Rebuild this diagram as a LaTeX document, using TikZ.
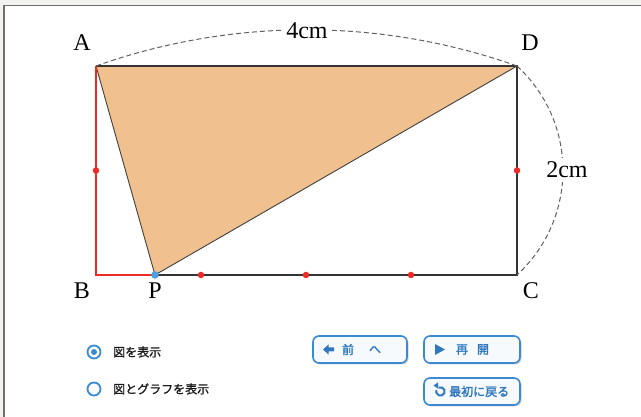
\documentclass[tikz,border=0pt]{standalone}
\usepackage{fontspec}
\setmainfont{Liberation Serif}
\newfontfamily\jpfont[FakeBold=1]{Noto Sans CJK JP}
\newfontfamily\jpbold[FakeBold=2]{Noto Sans CJK JP}
\usetikzlibrary{arrows.meta}
\definecolor{bgray}{HTML}{F3F2EE}
\definecolor{frame}{HTML}{707070}
\definecolor{tri}{HTML}{F0C08E}
\definecolor{redl}{HTML}{EE2A24}
\definecolor{bluep}{HTML}{4A9FDF}
\definecolor{btnblue}{HTML}{3A8AD2}
\definecolor{btntext}{HTML}{2F78C0}
\definecolor{btnfill}{HTML}{F7FAFD}
\tikzset{
  ptlabel/.style={font=\fontsize{24}{24}\selectfont, inner sep=0pt},
  dimlabel/.style={font=\fontsize{24}{24}\selectfont, fill=white, inner sep=4pt},
  edge/.style={draw=black!80, line width=1.2pt},
  redside/.style={draw=redl, line width=2.2pt},
  dimarc/.style={draw=black!62, dash pattern=on 5pt off 3pt, line width=1pt},
  reddot/.style={circle, fill=redl, inner sep=0pt, minimum size=6.5pt},
  radiolbl/.style={font=\jpfont\fontsize{12}{12}\selectfont, text=black!90, anchor=west, inner sep=0pt},
  btn/.style={draw=btnblue, line width=1.6pt, rounded corners=6pt, fill=btnfill},
  btnshadow/.style={fill=black!18, rounded corners=6pt},
  btntxt/.style={font=\jpbold\fontsize{12}{12}\selectfont, text=btntext, inner sep=0pt}
}
\begin{document}
\begin{tikzpicture}[x=1pt,y=1pt]
\useasboundingbox (0,0) rectangle (641,417);
% background and frame
\fill[bgray] (0,0) rectangle (641,417);
\fill[white] (4,0) rectangle (641,411.5);
\draw[frame, line width=1.6pt] (4,0) -- (4,411.5) -- (641,411.5);
% points
\coordinate (A) at (96,351);
\coordinate (D) at (517,351);
\coordinate (C) at (517,142);
\coordinate (B) at (96,142);
\coordinate (P) at (155,142);
% triangle
\fill[tri] (A) -- (P) -- (D) -- cycle;
\draw[black!75, line width=0.9pt, line join=round] (A) -- (P) -- (D);
% rectangle sides
\draw[edge] (A) -- (D) -- (C) -- (P);
\draw[redside, line join=miter] (A) -- (B) -- (P);
% dimension arcs
\draw[dimarc] (A) arc[start angle=109.52, end angle=70.48, radius=630pt];
\draw[dimarc] (D) arc[start angle=47.5, end angle=-47.5, radius=141.7pt];
\node[dimlabel] (len4) at (307,386) {4cm};
\node[dimlabel] (len2) at (567,247) {2cm};
% dots
\node[reddot] (mAB) at (96,246.5) {};
\node[reddot] (mDC) at (517,246.5) {};
\node[reddot] (q1) at (201,142) {};
\node[reddot] (q2) at (306,142) {};
\node[reddot] (q3) at (411,142) {};
\node[circle, fill=bluep, inner sep=0pt, minimum size=7.5pt] (Pdot) at (P) {};
% labels
\node[ptlabel] (lA) at (82,374) {A};
\node[ptlabel] (lD) at (530,374) {D};
\node[ptlabel] (lB) at (82,126) {B};
\node[ptlabel] (lP) at (155,126) {P};
\node[ptlabel] (lC) at (531,126) {C};
% radio buttons
\node[circle, draw=btnblue, line width=1.8pt, inner sep=0pt, minimum size=13pt] (r1) at (94,65) {};
\node[circle, fill=btnblue, inner sep=0pt, minimum size=6pt] (r1dot) at (94,65) {};
\node[radiolbl] (t1) at (113,65) {図を表示};
\node[circle, draw=btnblue, line width=1.8pt, inner sep=0pt, minimum size=13pt] (r2) at (94,28) {};
\node[radiolbl] (t2) at (113,28) {図とグラフを表示};
% buttons
\fill[btnshadow] (314.5,52.5) rectangle (408.5,79.5);
\draw[btn] (313,54) rectangle (407,81);
\fill[btnshadow] (425.5,52.5) rectangle (521.5,79.5);
\draw[btn] (424,54) rectangle (520,81);
\fill[btnshadow] (425.5,10.5) rectangle (521.5,37.5);
\draw[btn] (424,12) rectangle (520,39);
% button 1: left arrow, 前 へ
\fill[btntext] (323,67.5) -- (328.5,72.5) -- (328.5,69.5) -- (334,69.5) -- (334,65.5) -- (328.5,65.5) -- (328.5,62.5) -- cycle;
\node[btntxt] (b1a) at (348,67.5) {前};
\node[btntxt] (b1b) at (375,67.5) {へ};
% button 2: play, 再 開
\fill[btntext] (435,73) -- (445,67.5) -- (435,62) -- cycle;
\node[btntxt] (b2a) at (462,67.5) {再};
\node[btntxt] (b2b) at (483,67.5) {開};
% button 3: reload icon, 最初に戻る
\draw[btntext, line width=2pt] (439,29.5) arc[start angle=110, end angle=-200, radius=4.2pt];
\fill[btntext] (433.5,31.5) -- (438,34.5) -- (438.5,28) -- cycle;
\node[btntxt, anchor=west] (b3) at (449,25.5) {最初に戻る};
\end{tikzpicture}
\end{document}
